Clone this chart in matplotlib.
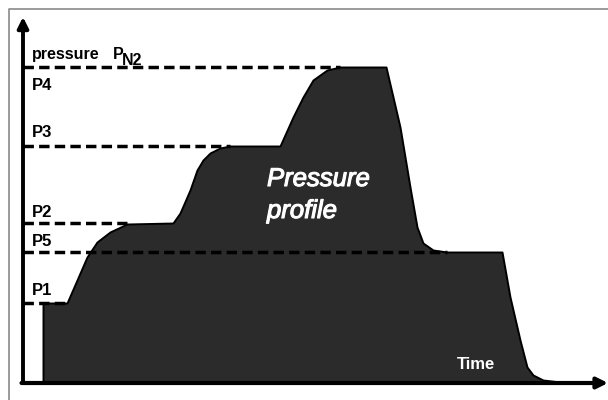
import matplotlib
matplotlib.use("Agg")
from matplotlib import pyplot as plt
from matplotlib import patheffects as pe

plt.rcParams['font.family'] = ['Liberation Sans', 'DejaVu Sans']

# pressure profile (time, pressure)
time = [20, 20, 44, 54, 64, 74, 87, 104, 150, 157, 167, 174, 180, 187, 197, 207,
        257, 270, 280, 290, 304, 317, 363, 377, 387, 394, 400, 410, 424, 479,
        487, 497, 504, 510, 520, 537, 552]
pressure = [0, 80, 80, 103, 126, 141, 151, 159, 160, 170, 193, 213, 223, 230, 235, 237,
            237, 266, 286, 303, 313, 316, 316, 256, 196, 156, 140, 133, 131, 131,
            86, 43, 16, 8, 3, 1, 0]

# pressure levels and where their dashed guide lines end
level_names = ["P4", "P3", "P2", "P5", "P1"]
level_values = [316, 237, 160, 131, 80]
level_ends = [317, 207, 104, 424, 44]
label_baselines = [293, 246, 166, 137, 88]

fig = plt.figure(figsize=(6.08, 4.0), dpi=100)
ax = fig.add_axes([0, 0, 1, 1])
ax.set_xlim(-23, 585)
ax.set_ylim(-17, 383)
ax.axis("off")

# outer frame (left and top visible)
ax.plot([-14, -14, 590], [-20, 374, 374], color="#8a8a8a", lw=1.2, clip_on=False)

# profile
ax.fill_between(time, pressure, 0, color="#2b2b2b", edgecolor="black", lw=1.4, zorder=2)

# dashed levels
for val, end in zip(level_values, level_ends):
    ax.plot([0, end], [val, val], color="black", lw=2.5, dashes=(3.0, 1.5), zorder=3)

# axes with arrows
ax.annotate("", xy=(0, 366), xytext=(0, 0),
            arrowprops=dict(arrowstyle="-|>", lw=2.8, color="black", mutation_scale=16,
                            shrinkA=0, shrinkB=0), zorder=4)
ax.annotate("", xy=(585, 0), xytext=(-1.5, 0),
            arrowprops=dict(arrowstyle="-|>", lw=3.0, color="black", mutation_scale=16,
                            shrinkA=0, shrinkB=0), zorder=4)

# labels
ax.text(9, 324, "pressure", fontsize=11.5, fontweight="bold", va="baseline")
ax.text(90, 324, "P", fontsize=11.5, fontweight="bold", va="baseline")
ax.text(99, 318, "N2", fontsize=11.5, fontweight="bold", va="baseline")
for name, base in zip(level_names, label_baselines):
    ax.text(9, base, name, fontsize=12, fontweight="bold", va="baseline")

white = [pe.withStroke(linewidth=0.8, foreground="white")]
ax.text(244, 197, "Pressure", fontsize=18.5, style="italic", color="white", va="baseline",
        zorder=5, path_effects=white)
ax.text(244, 165, "profile", fontsize=18.5, style="italic", color="white", va="baseline",
        zorder=5, path_effects=white)
ax.text(434, 14, "Time", fontsize=12, fontweight="bold", color="white", va="baseline", zorder=5)

fig.savefig("out.png", dpi=100)
